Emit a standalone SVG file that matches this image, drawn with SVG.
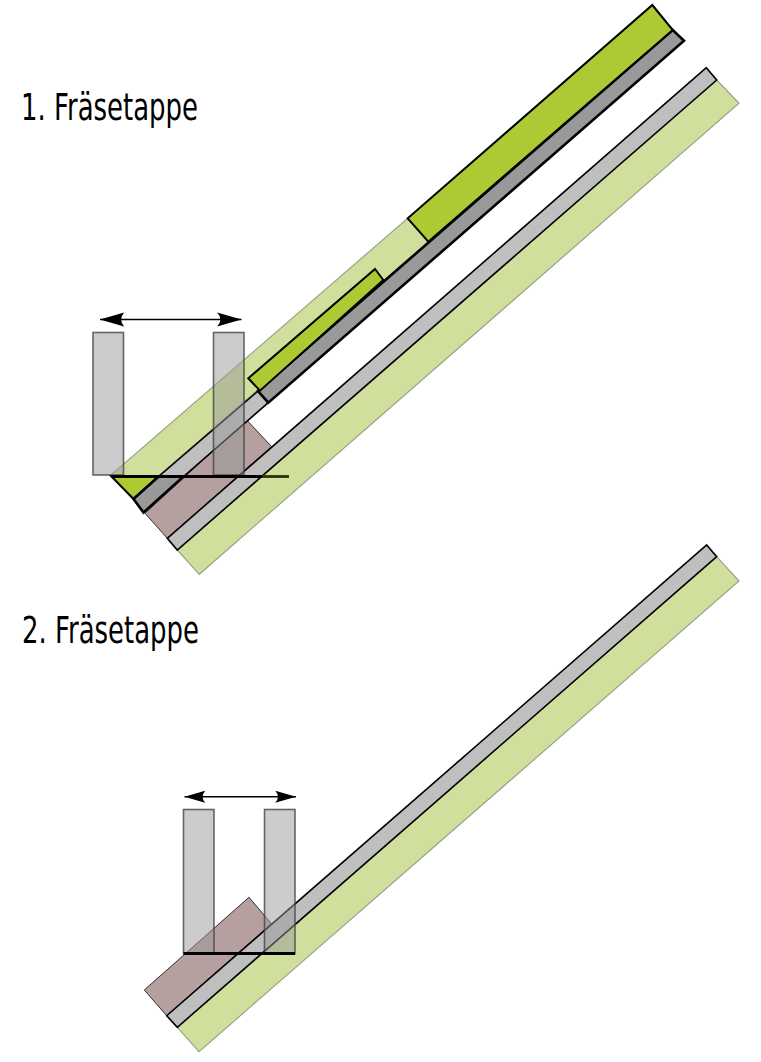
<svg xmlns="http://www.w3.org/2000/svg" width="761" height="1062" viewBox="0 0 761 1062">
<style>
.lg{fill:#d0df9b;stroke:#9aa38a;stroke-width:1.2}
.br{fill:#b59f9f;stroke:#3a2c2c;stroke-width:1}
.gy{fill:#bfbfbf;stroke:#000;stroke-width:1.6}
.dg{fill:#999;stroke:#000;stroke-width:2.6;stroke-linejoin:miter}
.gr{fill:#acca33;stroke:#000;stroke-width:2}
.tool{fill:#999;fill-opacity:.5;stroke:#444;stroke-opacity:.8;stroke-width:1.6}
.ln{stroke:#000;fill:none}
.t{font-family:"DejaVu Sans",sans-serif;font-size:37px;fill:#000}
</style>
<defs>
<marker id="a1" markerUnits="userSpaceOnUse" markerWidth="26" markerHeight="20" refX="24.300" refY="10" orient="auto-start-reverse" viewBox="0 0 26 20"><path d="M24.300 10L0 3Q6.300 10 0 17Z" fill="#000"/></marker>
<marker id="a2" markerUnits="userSpaceOnUse" markerWidth="26" markerHeight="20" refX="20.700" refY="10" orient="auto-start-reverse" viewBox="0 0 26 20"><path d="M20.700 10L0 4Q5.200 10 0 16Z" fill="#000"/></marker>
</defs>
<g id="stage1-text"><text class="t" x="21" y="119.500" textLength="177" lengthAdjust="spacingAndGlyphs">1. Fräsetappe</text></g>
<g id="stage2-text"><text class="t" x="22" y="642.500" textLength="177" lengthAdjust="spacingAndGlyphs">2. Fräsetappe</text></g>
<g id="stage1">
<path class="lg" d="M716.700 80L739 103.300L199.300 574.300L177.300 550Z"/>
<path class="lg" d="M407.700 218.300L428.300 241.700L133.300 498L111 475Z"/>
<path class="br" d="M246.700 420L271.700 446.700L167.300 538.300L145 513.300Z"/>
<path class="gy" d="M706.300 67.700L716.700 80L177.300 550L167.300 538.300Z"/>
<path class="gy" d="M258 391L268.300 402.700L183.500 476.500L158.700 476.500Z"/>
<path class="gr" d="M111 476L158.700 476L133.500 499Z"/>
<path class="dg" d="M158.700 476.500L183.500 476.500L143.500 512.500L133.500 499Z"/>
<path class="dg" d="M672.700 30L684 40.700L268.300 402.700L258 391Z"/>
<path class="gr" d="M652.300 5L672.700 30L428.300 241.700L407.700 218.300Z"/>
<path class="gr" d="M375 269L383.300 280L260 390.700L248.300 378.300Z"/>
<rect class="tool" x="93" y="332.500" width="30.500" height="142.500"/>
<rect class="tool" x="213.500" y="332.500" width="30.500" height="142.500"/>
<path class="ln" stroke-width="2.800" d="M111 476.500H262"/>
<path stroke="#2c3300" fill="none" stroke-width="2.800" d="M262 476.500H289"/>
</g>
<g id="stage2">
<path class="lg" d="M716.700 556.700L739 581L199 1051.700L177.300 1027.300Z"/>
<path class="br" d="M249 897.300L271.700 924L166.700 1015.700L144.300 990Z"/>
<path class="gy" d="M706.700 545L716.700 556.700L177.300 1027.300L166.700 1015.700Z"/>
<rect class="tool" x="183.500" y="809.500" width="30.500" height="144"/>
<rect class="tool" x="264.500" y="809.500" width="30.500" height="144"/>
<path class="ln" stroke-width="3" d="M183.500 953.500H295"/>
</g>
<g id="connectors">
<path class="ln" stroke-width="1.500" marker-start="url(#a1)" marker-end="url(#a1)" d="M100 319.500H241.500"/>
<path class="ln" stroke-width="1.400" marker-start="url(#a2)" marker-end="url(#a2)" d="M184.500 796.700H296"/>
</g>
</svg>
